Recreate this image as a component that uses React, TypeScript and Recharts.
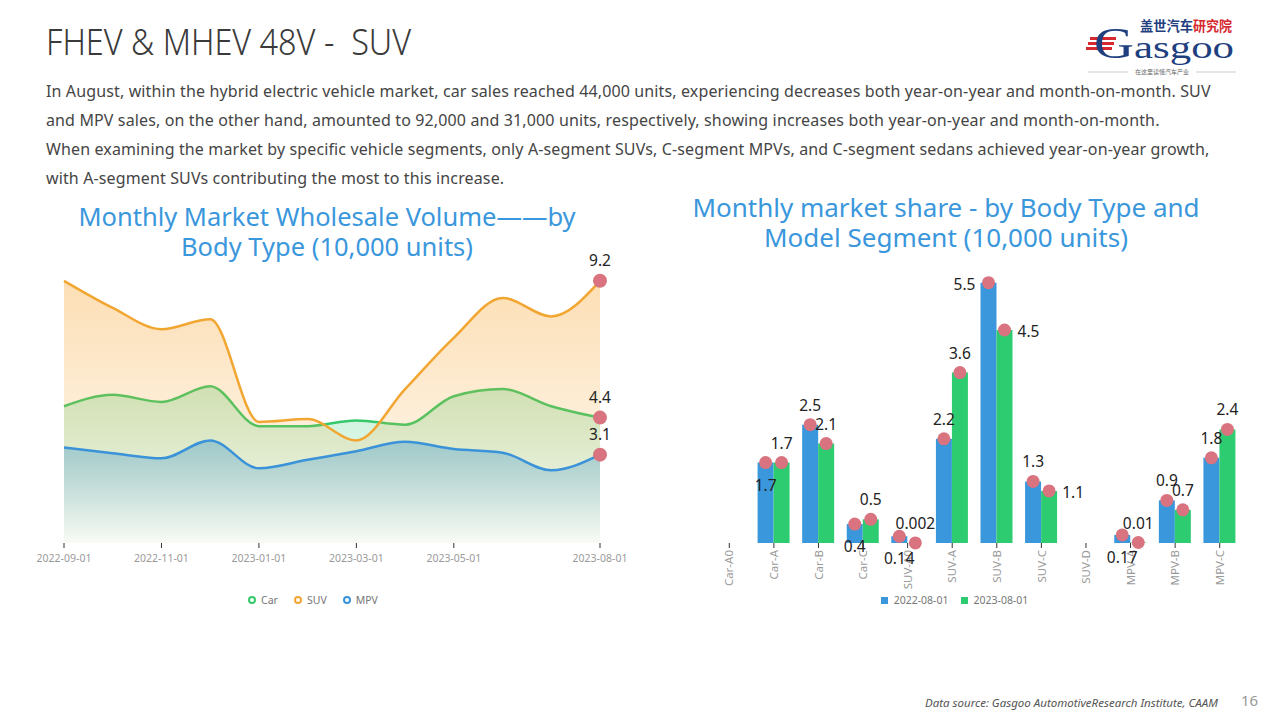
import React from 'react';
import {
  AreaChart,
  Area,
  BarChart,
  Bar,
  XAxis,
  YAxis,
  Legend,
} from 'recharts';

// monthly wholesale volume (10,000 units)
const months = [
  '2022-09-01', '2022-10-01', '2022-11-01', '2022-12-01', '2023-01-01', '2023-02-01',
  '2023-03-01', '2023-04-01', '2023-05-01', '2023-06-01', '2023-07-01', '2023-08-01',
];
const carVolume = [4.8, 5.2, 4.95, 5.5, 4.1, 4.1, 4.3, 4.15, 5.15, 5.4, 4.8, 4.4];
const suvVolume = [9.2, 8.25, 7.5, 7.85, 4.25, 4.35, 3.6, 5.4, 7.2, 8.6, 7.95, 9.2];
const mpvVolume = [3.35, 3.15, 2.97, 3.6, 2.62, 2.92, 3.22, 3.55, 3.3, 3.17, 2.55, 3.1];
const monthTicks = ['2022-09-01', '2022-11-01', '2023-01-01', '2023-03-01', '2023-05-01', '2023-08-01'];
const bodyTypes = ['Car', 'SUV', 'MPV'];

// segment share (10,000 units)
const segments = [
  'Car-A0', 'Car-A', 'Car-B', 'Car-C', 'SUV-A0', 'SUV-A',
  'SUV-B', 'SUV-C', 'SUV-D', 'MPV-A', 'MPV-B', 'MPV-C',
];
const seg2022 = [null, 1.7, 2.5, 0.4, 0.14, 2.2, 5.5, 1.3, null, 0.17, 0.9, 1.8];
const seg2023 = [null, 1.7, 2.1, 0.5, 0.002, 3.6, 4.5, 1.1, null, 0.01, 0.7, 2.4];

const FONT = '"Noto Sans", "Noto Sans CJK SC", sans-serif';
const CJK = '"Noto Sans CJK SC", sans-serif';
const DOT = '#d9737f';

const volumeData = months.map((m, i) => ({
  idx: i,
  month: m,
  Car: carVolume[i],
  SUV: suvVolume[i],
  MPV: mpvVolume[i],
}));

const segmentData = segments.map((s, i) => ({
  segment: s,
  y2022: seg2022[i],
  y2023: seg2023[i],
}));

// where each bar label sits relative to its dot
const blueLabelPos = ['', 'below', 'above', 'below', 'below', 'above', 'left', 'above', '', 'below', 'above', 'above'];
const greenLabelPos = ['', 'above', 'above', 'above', 'above', 'above', 'right', 'right', '', 'above', 'above', 'above'];

function offsetFor(pos: string) {
  if (pos === 'below') return { dx: 0, dy: 22 };
  if (pos === 'left') return { dx: -24, dy: 1 };
  if (pos === 'right') return { dx: 24, dy: 1 };
  return { dx: 0, dy: -20 };
}

function makeBarLabel(values: (number | null)[], positions: string[]) {
  // label index counts only the drawn bars, so map it back to the category
  const drawn = values.map((v, i) => (v === null ? -1 : i)).filter((i) => i >= 0);
  return (props: any) => {
    const { x, y, width, value, index } = props;
    if (value === null || value === undefined) return null;
    const seg = props.payload && props.payload.segment;
    const cat = seg ? segments.indexOf(seg) : drawn[index];
    const cx = Number(x) + Number(width) / 2;
    const cy = Number(y);
    const { dx, dy } = offsetFor(positions[cat] || '');
    return (
      <g>
        <circle cx={cx} cy={cy} r={6.5} fill={DOT} />
        <text
          x={cx + dx}
          y={cy + dy}
          textAnchor="middle"
          dominantBaseline="central"
          fontSize={15.5}
          fill="#222"
          fontFamily={FONT}
        >
          {value}
        </text>
      </g>
    );
  };
}

function lastDot(props: any) {
  const { cx, cy, index, value } = props;
  if (index !== months.length - 1) return <g key={`d${index}`} />;
  const v = Array.isArray(value) ? value[1] : value;
  return (
    <g key={`d${index}`}>
      <circle cx={cx} cy={cy} r={7} fill={DOT} />
      <text x={cx} y={cy - 21} textAnchor="middle" dominantBaseline="central" fontSize={15.5} fill="#222" fontFamily={FONT}>
        {v}
      </text>
    </g>
  );
}

function CircleLegend(props: any) {
  const items = [...(props.payload || [])].sort(
    (a: any, b: any) => bodyTypes.indexOf(a.value) - bodyTypes.indexOf(b.value),
  );
  return (
    <div style={{ display: 'flex', justifyContent: 'center', gap: 16, fontSize: 10.5, color: '#777', fontFamily: FONT, marginLeft: -38 }}>
      {items.map((it: any) => (
        <span key={it.value} style={{ display: 'flex', alignItems: 'center', gap: 5 }}>
          <svg width={8} height={8}>
            <circle cx={4} cy={4} r={3} fill="none" stroke={it.color} strokeWidth={2} />
          </svg>
          {it.value}
        </span>
      ))}
    </div>
  );
}

function SquareLegend(props: any) {
  const items = [...(props.payload || [])].sort((a: any, b: any) => (a.value < b.value ? -1 : 1));
  return (
    <div style={{ display: 'flex', justifyContent: 'center', gap: 12, fontSize: 10.5, color: '#777', fontFamily: FONT, marginLeft: -40 }}>
      {items.map((it: any) => (
        <span key={it.value} style={{ display: 'flex', alignItems: 'center', gap: 6 }}>
          <span style={{ width: 7, height: 7, background: it.color, display: 'inline-block' }} />
          {it.value}
        </span>
      ))}
    </div>
  );
}

const titleStyle: React.CSSProperties = {
  position: 'absolute',
  color: '#3a97dc',
  lineHeight: '30px',
  textAlign: 'center',
  fontFamily: FONT,
};

function Logo() {
  return (
    <svg width={160} height={70} style={{ position: 'absolute', left: 1084, top: 10 }}>
      <text x={56} y={21} fontSize={13.5} fontWeight={700} fill="#1f3f7f" fontFamily={CJK} textLength={53} lengthAdjust="spacingAndGlyphs">盖世汽车</text>
      <text x={109} y={21} fontSize={13.5} fontWeight={700} fill="#d6282f" fontFamily={CJK} textLength={39} lengthAdjust="spacingAndGlyphs">研究院</text>
      <rect x={6} y={27} width={26} height={3} fill="#d6282f" />
      <rect x={4} y={32} width={26} height={3} fill="#d6282f" />
      <rect x={2} y={37} width={26} height={3} fill="#d6282f" />
      <text x={10} y={48} fontSize={44} fill="#1f3f7f" fontFamily='"Liberation Serif", serif' textLength={40} lengthAdjust="spacingAndGlyphs">G</text>
      <text x={50} y={48} fontSize={32} fill="#1f3f7f" fontFamily='"Liberation Serif", serif' textLength={100} lengthAdjust="spacingAndGlyphs">asgoo</text>
      <line x1={4} y1={62} x2={44} y2={62} stroke="#aaa" strokeWidth={0.6} />
      <line x1={112} y1={62} x2={152} y2={62} stroke="#aaa" strokeWidth={0.6} />
      <text x={78} y={64} fontSize={6} fill="#666" textAnchor="middle" fontFamily={CJK}>在这里读懂汽车产业</text>
    </svg>
  );
}

export default function App() {
  return (
    <div
      style={{
        position: 'fixed',
        left: 0,
        top: 0,
        width: 1280,
        height: 720,
        background: '#fff',
        overflow: 'hidden',
        fontFamily: FONT,
      }}
    >
      <div
        style={{
          position: 'absolute',
          left: 46,
          top: 17,
          fontSize: 36,
          color: '#3a3a3a',
          fontWeight: 300,
          whiteSpace: 'nowrap',
          transform: 'scaleX(0.9)',
          transformOrigin: 'left top',
        }}
      >
        FHEV &amp; MHEV 48V -&nbsp; SUV
      </div>
      <Logo />
      <div
        style={{
          position: 'absolute',
          left: 46,
          top: 77,
          fontSize: 16,
          lineHeight: '29px',
          color: '#454545',
          whiteSpace: 'nowrap',
          letterSpacing: 0.13,
        }}
      >
        <div>In August, within the hybrid electric vehicle market, car sales reached 44,000 units, experiencing decreases both year-on-year and month-on-month. SUV</div>
        <div>and MPV sales, on the other hand, amounted to 92,000 and 31,000 units, respectively, showing increases both year-on-year and month-on-month.</div>
        <div>When examining the market by specific vehicle segments, only A-segment SUVs, C-segment MPVs, and C-segment sedans achieved year-on-year growth,</div>
        <div>with A-segment SUVs contributing the most to this increase.</div>
      </div>

      <div style={{ ...titleStyle, fontSize: 25.5, left: 27, width: 600, top: 201 }}>
        Monthly Market Wholesale Volume——by
        <br />
        Body Type (10,000 units)
      </div>
      <div style={{ ...titleStyle, fontSize: 26, left: 646, width: 600, top: 192 }}>
        Monthly market share - by Body Type and
        <br />
        Model Segment (10,000 units)
      </div>

      <div style={{ position: 'absolute', left: 0, top: 240 }}>
        <AreaChart width={640} height={380} data={volumeData} margin={{ top: 18, right: 40, left: 64, bottom: 7 }}>
          <defs>
            <linearGradient id="gCar" x1="0" y1="0" x2="0" y2="1">
              <stop offset="0%" stopColor="#2ecc71" stopOpacity={0.45} />
              <stop offset="100%" stopColor="#2ecc71" stopOpacity={0.04} />
            </linearGradient>
            <linearGradient id="gSuv" x1="0" y1="0" x2="0" y2="1">
              <stop offset="0%" stopColor="#f7a531" stopOpacity={0.6} />
              <stop offset="100%" stopColor="#f7a531" stopOpacity={0.05} />
            </linearGradient>
            <linearGradient id="gMpv" x1="0" y1="0" x2="0" y2="1">
              <stop offset="0%" stopColor="#2f8fcf" stopOpacity={0.6} />
              <stop offset="100%" stopColor="#2f8fcf" stopOpacity={0} />
            </linearGradient>
          </defs>
          <XAxis
            dataKey="idx"
            type="number"
            domain={[0, 11]}
            ticks={monthTicks.map((t) => months.indexOf(t))}
            tickFormatter={(v: number) => months[v]}
            axisLine={false}
            tickLine={{ stroke: '#333' }}
            tickSize={5}
            tick={{ fontSize: 10.5, fill: '#9a9a9a', fontFamily: FONT, dy: 5 }}
            height={50}
          />
          <YAxis hide domain={[0, 10]} />
          <Legend verticalAlign="bottom" height={20} content={<CircleLegend />} />
          <Area
            type="monotone"
            dataKey="Car"
            name="Car"
            stroke="#34c86a"
            strokeWidth={2.5}
            fill="url(#gCar)"
            dot={lastDot}
            activeDot={false}
            isAnimationActive={false}
          />
          <Area
            type="monotone"
            dataKey="SUV"
            name="SUV"
            stroke="#f2a632"
            strokeWidth={2.5}
            fill="url(#gSuv)"
            dot={lastDot}
            activeDot={false}
            isAnimationActive={false}
          />
          <Area
            type="monotone"
            dataKey="MPV"
            name="MPV"
            stroke="#3a92d8"
            strokeWidth={2.5}
            fill="url(#gMpv)"
            dot={lastDot}
            activeDot={false}
            isAnimationActive={false}
          />
        </AreaChart>
      </div>

      <div style={{ position: 'absolute', left: 640, top: 240 }}>
        <BarChart
          width={640}
          height={380}
          data={segmentData}
          margin={{ top: 19, right: 38, left: 67, bottom: 7 }}
          barGap={0}
          barSize={16}
        >
          <XAxis
            dataKey="segment"
            interval={0}
            axisLine={false}
            tickLine={{ stroke: '#333' }}
            tickSize={5}
            angle={-90}
            textAnchor="end"
            dx={-4}
            tick={{ fontSize: 11.5, fill: '#9a9a9a', fontFamily: FONT }}
            height={50}
          />
          <YAxis hide domain={[0, 6]} />
          <Legend verticalAlign="bottom" height={20} content={<SquareLegend />} />
          <Bar dataKey="y2022" name="2022-08-01" fill="#3a97dc" isAnimationActive={false} label={makeBarLabel(seg2022, blueLabelPos)} />
          <Bar dataKey="y2023" name="2023-08-01" fill="#2ecc71" isAnimationActive={false} label={makeBarLabel(seg2023, greenLabelPos)} />
        </BarChart>
      </div>

      <div
        style={{
          position: 'absolute',
          left: 925,
          top: 695,
          fontSize: 11.5,
          fontStyle: 'italic',
          color: '#555',
          whiteSpace: 'nowrap',
        }}
      >
        Data source: Gasgoo AutomotiveResearch Institute, CAAM
      </div>
      <div style={{ position: 'absolute', left: 1241, top: 690, fontSize: 15, color: '#999' }}>16</div>
    </div>
  );
}
